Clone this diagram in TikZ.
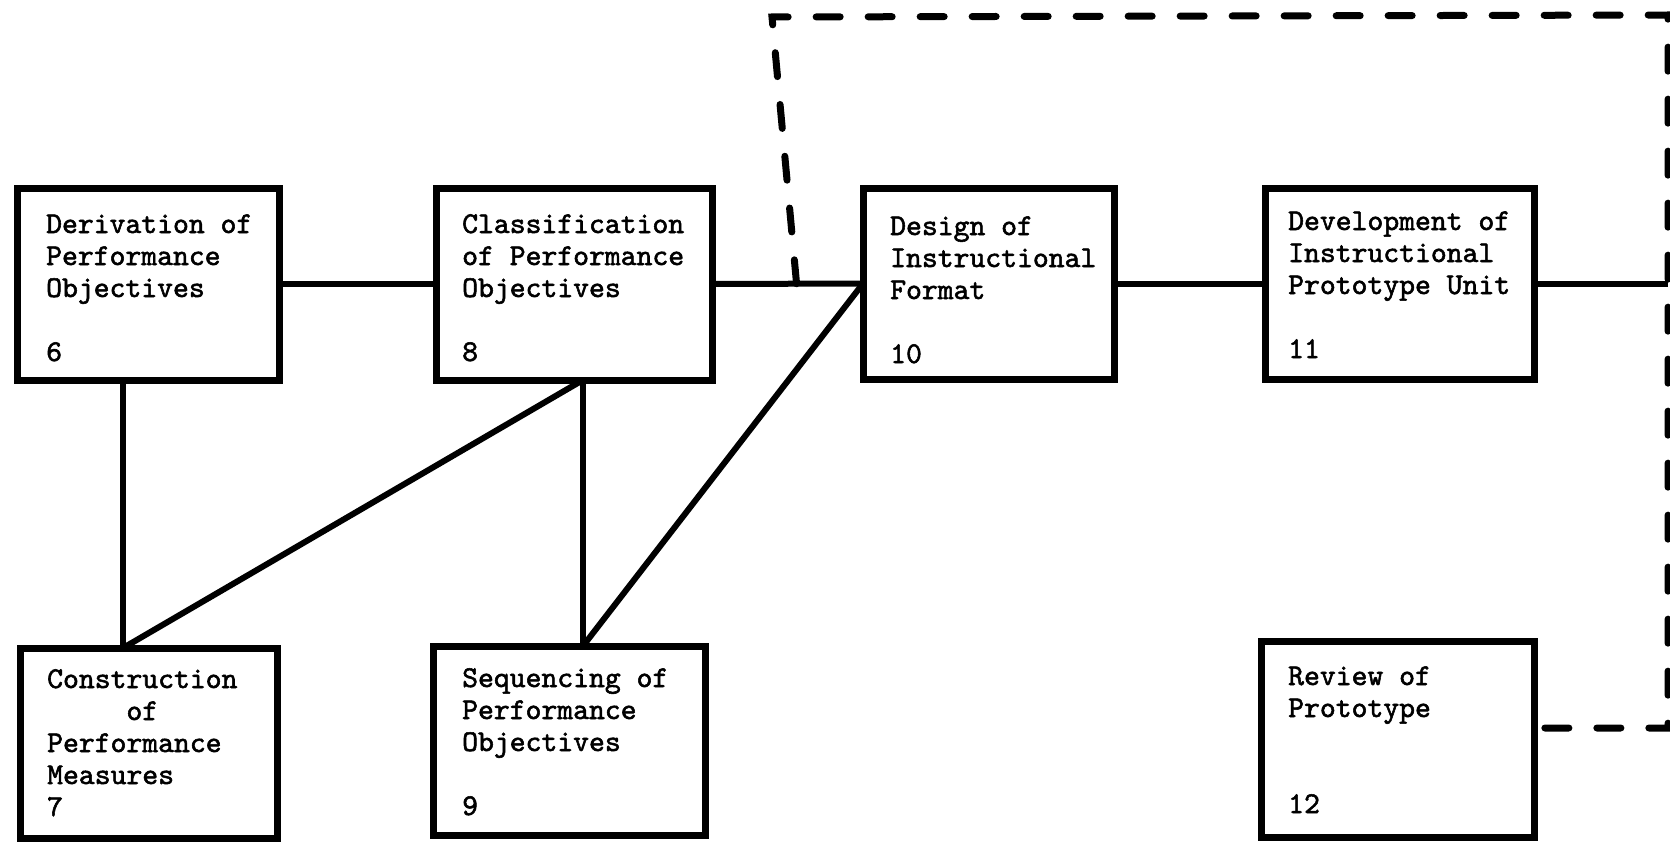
\documentclass[tikz,border=0pt]{standalone}
\usepackage{fontspec}
\newfontfamily\tw{lmmono10-regular}[Extension=.otf, RawFeature={embolden=1.8}]
\usetikzlibrary{calc}
\begin{document}
\begin{tikzpicture}[x=1pt,y=-1pt,
  box/.style={draw, line width=7pt, rectangle, anchor=north west, inner sep=0pt, outer sep=0pt},
  txt/.style={anchor=base west, inner sep=0pt, font=\tw\fontsize{30.2}{32}\selectfont},
  link/.style={line width=6pt},
  fb/.style={line width=7pt, dash pattern=on 24pt off 28pt, line cap=round}]
\useasboundingbox[fill=white] (0,0) rectangle (1670,848);
% boxes
\node[box, minimum width=262pt, minimum height=192pt] (b6) at (17,188) {};
\node[box, minimum width=276pt, minimum height=192pt] (b8) at (436,188) {};
\node[box, minimum width=251pt, minimum height=191pt] (b10) at (863,188) {};
\node[box, minimum width=269pt, minimum height=191pt] (b11) at (1265,188) {};
\node[box, minimum width=257pt, minimum height=190pt] (b7) at (20,648) {};
\node[box, minimum width=272pt, minimum height=189pt] (b9) at (433,646) {};
\node[box, minimum width=273pt, minimum height=196pt] (b12) at (1261,641) {};
% texts
\node[txt] (t6) at ([xshift=29pt,yshift=-45pt]b6.north west) {\begin{tabular}[t]{@{}l@{}}Derivation of\\Performance\\Objectives\\ \\6\end{tabular}};
\node[txt] (t8) at ([xshift=26pt,yshift=-45pt]b8.north west) {\begin{tabular}[t]{@{}l@{}}Classification\\of Performance\\Objectives\\ \\8\end{tabular}};
\node[txt] (t10) at ([xshift=27pt,yshift=-47pt]b10.north west) {\begin{tabular}[t]{@{}l@{}}Design of\\Instructional\\Format\\ \\10\end{tabular}};
\node[txt] (t11) at ([xshift=23pt,yshift=-42pt]b11.north west) {\begin{tabular}[t]{@{}l@{}}Development of\\Instructional\\Prototype Unit\\ \\11\end{tabular}};
\node[txt] (t7) at ([xshift=27pt,yshift=-40pt]b7.north west) {\begin{tabular}[t]{@{}l@{}}Construction\\\phantom{Const}of\\Performance\\Measures\\7\end{tabular}};
\node[txt] (t9) at ([xshift=29pt,yshift=-41pt]b9.north west) {\begin{tabular}[t]{@{}l@{}}Sequencing of\\Performance\\Objectives\\ \\9\end{tabular}};
\node[txt] (t12) at ([xshift=27pt,yshift=-44pt]b12.north west) {\begin{tabular}[t]{@{}l@{}}Review of\\Prototype\\ \\ \\12\end{tabular}};
% junction points
\coordinate (j1) at ($(b8.east)!0.56!(b10.west)$);
\coordinate (c1) at (772,17);
\coordinate (c2) at (1668,15);
\coordinate (c3) at (1668,728);
\coordinate (j2) at (b11.east -| c2);
\coordinate (p6) at ([xshift=106pt]b6.south west);
\coordinate (p7) at ([xshift=103pt]b7.north west);
\coordinate (p8) at ([xshift=147pt]b8.south west);
\coordinate (p9) at ([xshift=150pt]b9.north west);
\coordinate (p12) at ([yshift=11pt]b12.east);
% solid connectors
\draw[link] (b6.east) -- (b8.west);
\draw[link] (b8.east) -- (b10.west);
\draw[link] (b10.east) -- (b11.west);
\draw[link] (b11.east) -- (j2);
\draw[link] (p6) -- (p7);
\draw[link] (p8) -- (p7);
\draw[link] (p8) -- (p9);
\draw[link] (p9) -- (b10.west);
% dashed feedback loop
\draw[fb] (j1) -- (c1) -- (c2) -- (c3) -- (p12);
\end{tikzpicture}
\end{document}
